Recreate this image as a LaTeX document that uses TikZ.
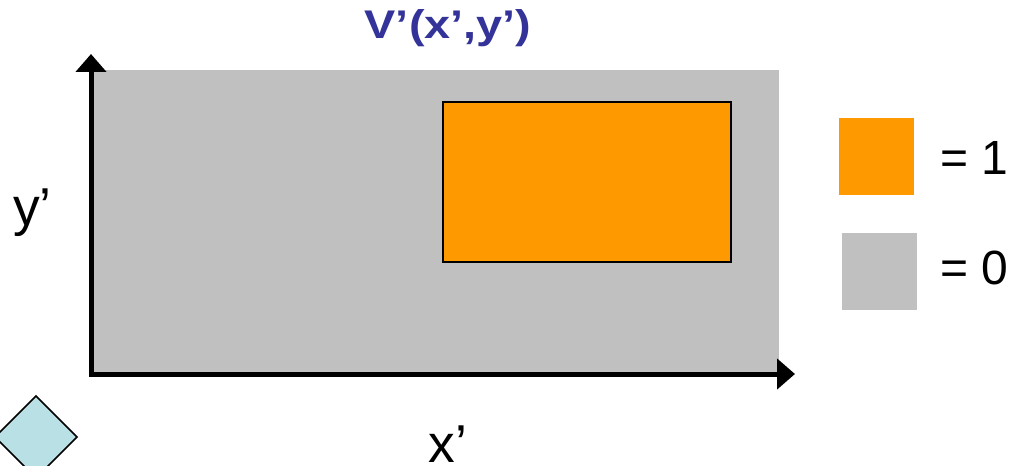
\documentclass[tikz,border=0pt]{standalone}
\usepackage{fontspec}
\setmainfont{Liberation Sans}
\usetikzlibrary{arrows.meta}
\definecolor{gfill}{RGB}{192,192,192}
\definecolor{ofill}{RGB}{255,153,0}
\definecolor{tblue}{RGB}{51,51,153}
\definecolor{lblue}{RGB}{185,224,228}
\begin{document}
\begin{tikzpicture}[x=0.75pt,y=-0.75pt,
  axis/.style={line width=3.75pt,-{Triangle[width=22.5pt,length=13.5pt]}},
  axlbl/.style={font=\fontsize{40}{44}\selectfont,inner sep=0pt},
  leglbl/.style={font=\fontsize{36}{40}\selectfont,inner sep=0pt,anchor=base west},
  box/.style={inner sep=0pt,outer sep=0pt}]
\useasboundingbox (0,0) rectangle (1019,466);
\clip (0,0) rectangle (1019,466);
% gray field
\node[box,fill=gfill,minimum width=513.75pt,minimum height=226.5pt] (field) at (436.5,221) {};
% orange region
\node[box,draw=black,line width=1.5pt,fill=ofill,minimum width=216pt,minimum height=120pt] (one) at (587,182) {};
% axes
\coordinate (o) at (91,374);
\coordinate (ytip) at (91,54);
\coordinate (xtip) at (795,374);
\coordinate (o2) at (89,374);
\draw[axis] (o) -- (ytip);
\draw[axis] (o2) -- (xtip);
% title and axis labels
\node[font=\fontsize{30}{33}\selectfont\bfseries,text=tblue,inner sep=0pt,anchor=base,xscale=1.17] (title) at (448,39) {V’(x’,y’)};
\node[axlbl,anchor=base west] (ylab) at (13,226) {y’};
\node[axlbl,anchor=base] (xlab) at (448,462) {x’};
% legend
\node[box,fill=ofill,minimum width=56.25pt,minimum height=57.75pt] (lone) at (876.5,156.5) {};
\node[leglbl] (l1) at (940,175) {= 1};
\node[box,fill=gfill,minimum width=56.25pt,minimum height=57.75pt] (lzero) at (879.5,271.5) {};
\node[leglbl] (l0) at (940,285) {= 0};
% diamond bottom-left
\draw[fill=lblue,line width=1.2pt] (36,396) -- (77,437) -- (36,478) -- (-5,437) -- cycle;
\end{tikzpicture}
\end{document}
